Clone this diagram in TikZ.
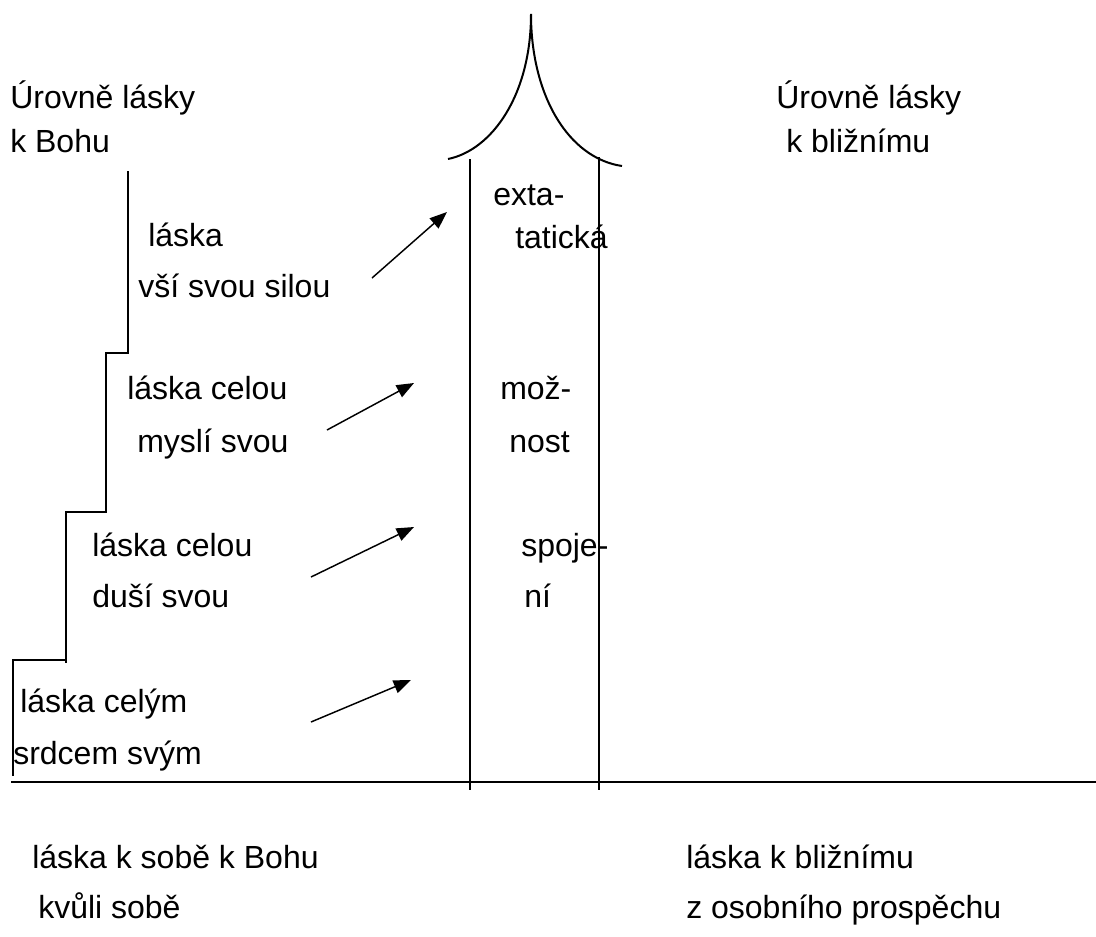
\documentclass[tikz,border=0pt]{standalone}
\usepackage{fontspec}
\setmainfont{Liberation Sans}
\usetikzlibrary{arrows.meta}
\tikzset{
  lbl/.style={anchor=base west, inner sep=0pt, font=\fontsize{24}{28}\selectfont},
  frame/.style={line width=1.5pt, line cap=rect},
  pointer/.style={line width=1.1pt, -{Triangle[length=13pt,width=10pt]}}
}
\begin{document}
\begin{tikzpicture}[x=0.75pt,y=-0.75pt]
\useasboundingbox (0,0) rectangle (1096,936);
% texts
\node[lbl] (tl1) at (10,108) {Úrovně lásky};
\node[lbl] (tl2) at (10,152) {k Bohu};
\node[lbl] (tr1) at (776,108) {Úrovně lásky};
\node[lbl] (tr2) at (786,152) {k bližnímu};
\node[lbl] (c1a) at (493,205) {exta-};
\node[lbl] (c1b) at (515,248) {tatická};
\node[lbl] (c2a) at (500,399) {mož-};
\node[lbl] (c2b) at (509,452) {nost};
\node[lbl] (c3a) at (521,556) {spoje-};
\node[lbl] (c3b) at (524,607) {ní};
\node[lbl] (s4a) at (148,246) {láska};
\node[lbl] (s4b) at (138,297) {vší svou silou};
\node[lbl] (s3a) at (127,399) {láska celou};
\node[lbl] (s3b) at (137,452) {myslí svou};
\node[lbl] (s2a) at (92,556) {láska celou};
\node[lbl] (s2b) at (92,607) {duší svou};
\node[lbl] (s1a) at (20,712) {láska celým};
\node[lbl] (s1b) at (13,764) {srdcem svým};
\node[lbl] (bl1) at (32,868) {láska k sobě k Bohu};
\node[lbl] (bl2) at (38,918) {kvůli sobě};
\node[lbl] (br1) at (686,868) {láska k bližnímu};
\node[lbl] (br2) at (686,918) {z osobního prospěchu};
% ground line
\coordinate (g0) at (12,782);
\coordinate (g1) at (1096,782);
\draw[frame] (g0) -- (g1);
% stairs
\draw[frame] (128,172) -- (128,353) -- (106,353) -- (106,512) -- (66,512) -- (66,662)
  (13,775) -- (13,660) -- (66,660);
% columns
\coordinate (lc0) at (470,160);
\coordinate (lc1) at (470,789);
\coordinate (rc0) at (599,158);
\coordinate (rc1) at (599,789);
\draw[frame] (lc0) -- (lc1);
\draw[frame] (rc0) -- (rc1);
% arch
\coordinate (apex) at (531,14);
\coordinate (al) at (448,159);
\coordinate (ar) at (622,166);
\draw[line width=1.5pt] (al) .. controls (492,150) and (531,95) .. (apex)
  .. controls (531,95) and (568,158) .. (ar);
% arrows
\coordinate (a1s) at (372,278); \coordinate (a1e) at (447,212);
\coordinate (a2s) at (327,430); \coordinate (a2e) at (414,383);
\coordinate (a3s) at (311,577); \coordinate (a3e) at (414,527);
\coordinate (a4s) at (311,722); \coordinate (a4e) at (411,680);
\draw[pointer] (a1s) -- (a1e);
\draw[pointer] (a2s) -- (a2e);
\draw[pointer] (a3s) -- (a3e);
\draw[pointer] (a4s) -- (a4e);
\end{tikzpicture}
\end{document}
